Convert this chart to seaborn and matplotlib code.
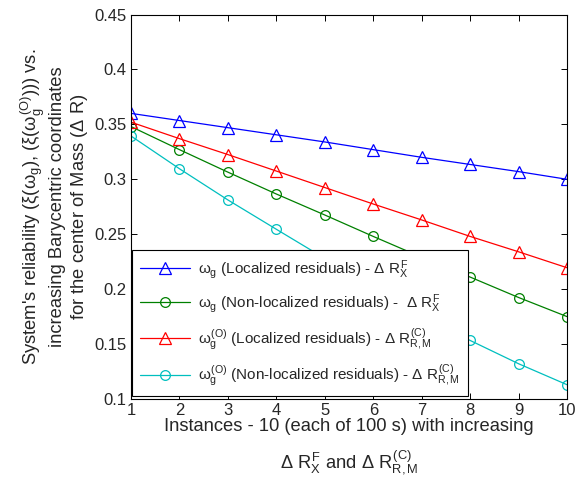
import matplotlib
matplotlib.use('Agg')
import matplotlib.pyplot as plt
import seaborn as sns
import numpy as np

# Data
instances = [1, 2, 3, 4, 5, 6, 7, 8, 9, 10]
loc_F = [0.360, 0.3535, 0.347, 0.3405, 0.334, 0.327, 0.320, 0.3135, 0.307, 0.300]
nonloc_F = [0.348, 0.327, 0.3065, 0.2866, 0.2675, 0.248, 0.229, 0.211, 0.1924, 0.175]
loc_C = [0.352, 0.337, 0.3225, 0.3075, 0.2925, 0.2775, 0.263, 0.248, 0.234, 0.2195]
nonloc_C = [0.3394, 0.3096, 0.2812, 0.2545, 0.228, 0.202, 0.177, 0.1533, 0.1321, 0.113]

labels = [
    r'$\omega_g$ (Localized residuals) - $\Delta$ $R_X^F$',
    r'$\omega_g$ (Non-localized residuals) -  $\Delta$ $R_X^F$',
    r'$\omega_g^{(O)}$ (Localized residuals) - $\Delta$ $R_{R,M}^{(C)}$',
    r'$\omega_g^{(O)}$ (Non-localized residuals) - $\Delta$ $R_{R,M}^{(C)}$',
]
series = [loc_F, nonloc_F, loc_C, nonloc_C]
colors = ['#0000ff', '#008000', '#ff0000', '#00bfbf']
markers = ['^', 'o', '^', 'o']

sns.set_style('white')
plt.rcParams['font.family'] = ['Liberation Sans', 'DejaVu Sans']
plt.rcParams['mathtext.fontset'] = 'custom'
plt.rcParams['mathtext.rm'] = 'Liberation Sans'
plt.rcParams['mathtext.it'] = 'Liberation Sans'
plt.rcParams['mathtext.bf'] = 'Liberation Sans:bold'

fig = plt.figure(figsize=(5.81, 4.84), dpi=100)
ax = fig.add_axes([0.2255, 0.1756, 0.7505, 0.7944])

for vals, lab, c, m in zip(series, labels, colors, markers):
    sns.lineplot(x=instances, y=vals, ax=ax, color=c, marker=m,
                 markersize=8 if m == '^' else 7, markerfacecolor='none',
                 markeredgecolor=c, markeredgewidth=0.9, linewidth=0.9,
                 label=lab)

ax.set_xlim(1, 10)
ax.set_ylim(0.1, 0.45)
ax.set_xticks(instances)
ax.set_yticks(np.arange(0.1, 0.451, 0.05))
ax.set_yticklabels(['0.1', '0.15', '0.2', '0.25', '0.3', '0.35', '0.4', '0.45'])
ax.tick_params(direction='in', length=4, width=0.7, labelsize=12, pad=3,
               top=True, right=True, bottom=True, left=True, color='black')
for s in ax.spines.values():
    s.set_color('black')
    s.set_linewidth(0.8)

ax.set_xlabel('Instances - 10 (each of 100 s) with increasing\n\n'
              r'$\Delta$ $R_X^F$ and $\Delta$ $R_{R,M}^{(C)}$',
              fontsize=13.2, linespacing=0.9, labelpad=0)
ax.set_ylabel(r"System's reliability ($\xi(\omega_g)$, ($\xi(\omega_g^{(O)})$)) vs." '\n'
              'increasing Barycentric coordinates\n'
              r'for the center of Mass ($\Delta$ R)',
              fontsize=13.2, linespacing=1.2, labelpad=3)

leg = ax.legend(loc='lower left', bbox_to_anchor=(0.003, 0.008), fontsize=11,
                frameon=True, fancybox=False, framealpha=1, edgecolor='black',
                handlelength=3.3, borderaxespad=0, labelspacing=0.75,
                borderpad=0.5, handletextpad=0.5)
leg.get_frame().set_linewidth(0.8)

fig.savefig('out.png', dpi=100, facecolor='white')
